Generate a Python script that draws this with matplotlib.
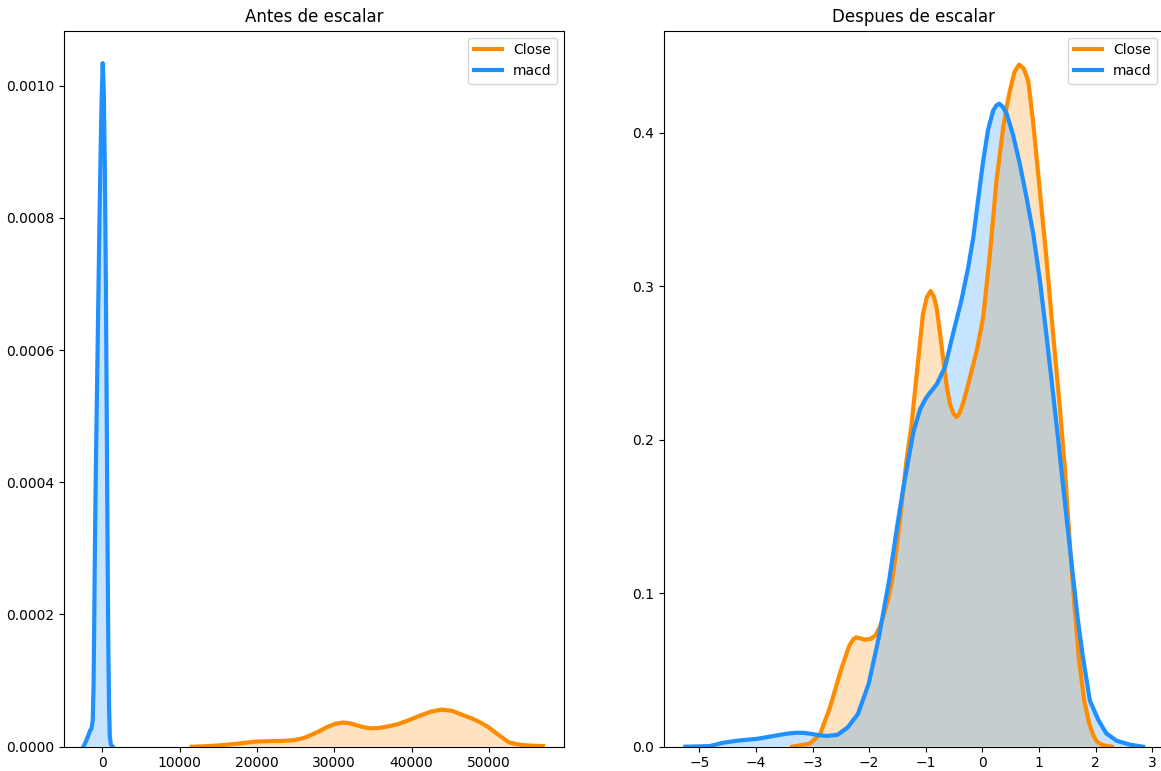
import matplotlib
matplotlib.use("Agg")
import matplotlib.pyplot as plt

# Density estimates before scaling (raw values)
close_raw_x = [11550, 13500, 15100, 16500, 17800, 19000, 20000, 21500, 23200, 24900,
               26000, 26700, 27900, 29000, 30100, 31100, 32000, 32800, 33800, 34750,
               35700, 36500, 37400, 38300, 39600, 41000, 42500, 43900, 45300, 46800,
               48000, 49000, 50000, 50800, 51700, 52600, 53500, 54400, 55600, 57000]
close_raw_y = [0.0, 0.0000008, 0.0000020, 0.0000034, 0.0000050, 0.0000066, 0.0000078,
               0.0000084, 0.0000086, 0.0000101, 0.0000130, 0.0000162, 0.0000225,
               0.0000294, 0.0000345, 0.0000365, 0.0000355, 0.0000328, 0.0000295,
               0.0000278, 0.0000282, 0.0000298, 0.0000318, 0.0000344, 0.0000400,
               0.0000466, 0.0000530, 0.0000562, 0.0000540, 0.0000471, 0.0000418,
               0.0000360, 0.0000290, 0.0000218, 0.0000140, 0.0000066, 0.0000040,
               0.0000025, 0.0000015, 0.0000010]

macd_raw_x = [-2470, -2200, -1900, -1600, -1400, -1250, -1150, -1050, -960, -850,
              -700, -550, -400, -250, -100, 40, 180, 320, 450, 560, 660, 760, 860,
              960, 1100, 1330]
macd_raw_y = [0.0, 0.000006, 0.000015, 0.000024, 0.000028, 0.000040, 0.000090,
              0.000200, 0.000313, 0.000420, 0.000540, 0.000660, 0.000780, 0.000890,
              0.000980, 0.001034, 0.000990, 0.000870, 0.000700, 0.000500, 0.000313,
              0.000160, 0.000060, 0.000015, 0.000003, 0.0]

# Density estimates after standard scaling
close_std_x = [-3.36, -3.05, -2.87, -2.69, -2.50, -2.35, -2.28, -2.23, -2.15, -2.08,
               -1.98, -1.89, -1.81, -1.74, -1.66, -1.59, -1.52, -1.45, -1.34, -1.25,
               -1.16, -1.05, -0.98, -0.915, -0.86, -0.81, -0.75, -0.69, -0.63, -0.574,
               -0.51, -0.456, -0.40, -0.34, -0.28, -0.19, -0.10, 0.015, 0.133, 0.25,
               0.368, 0.43, 0.486, 0.57, 0.65, 0.73, 0.81, 0.90, 1.016, 1.13, 1.25,
               1.37, 1.46, 1.55, 1.62, 1.71, 1.80, 1.89, 1.96, 2.02, 2.10, 2.18, 2.29]
close_std_y = [0.0, 0.002, 0.008, 0.026, 0.050, 0.066, 0.0700, 0.0713, 0.0705, 0.0698,
               0.0702, 0.0725, 0.0780, 0.0860, 0.0970, 0.110, 0.128, 0.150, 0.187,
               0.2105, 0.243, 0.282, 0.2930, 0.297, 0.2935, 0.2865, 0.2700, 0.2518,
               0.2350, 0.2236, 0.2170, 0.2148, 0.2175, 0.2240, 0.232, 0.245, 0.258,
               0.280, 0.321, 0.369, 0.4036, 0.4170, 0.4275, 0.4400, 0.4445, 0.4420,
               0.434, 0.406, 0.362, 0.319, 0.269, 0.221, 0.180, 0.130, 0.095, 0.056,
               0.030, 0.015, 0.0075, 0.0035, 0.0015, 0.0006, 0.0]

macd_std_x = [-5.25, -4.82, -4.58, -4.33, -3.97, -3.66, -3.45, -3.30, -3.15, -3.05,
              -2.90, -2.75, -2.56, -2.38, -2.20, -2.01, -1.83, -1.65, -1.50, -1.40,
              -1.31, -1.22, -1.10, -1.00, -0.93, -0.81, -0.66, -0.52, -0.37, -0.25,
              -0.16, -0.07, 0.015, 0.10, 0.19, 0.25, 0.30, 0.36, 0.43, 0.54, 0.66,
              0.78, 0.90, 1.016, 1.13, 1.25, 1.34, 1.42, 1.50, 1.59, 1.68, 1.77,
              1.90, 2.05, 2.19, 2.37, 2.61, 2.84]
macd_std_y = [0.0, 0.0004, 0.0026, 0.0039, 0.0052, 0.0072, 0.0085, 0.0091, 0.0090,
              0.0085, 0.0076, 0.0070, 0.0078, 0.0126, 0.0213, 0.0409, 0.0713, 0.108,
              0.145, 0.1680, 0.1866, 0.2050, 0.2200, 0.2270, 0.2305, 0.2360, 0.2474,
              0.269, 0.291, 0.3125, 0.332, 0.358, 0.382, 0.4020, 0.4145, 0.4180,
              0.419, 0.4170, 0.4124, 0.399, 0.380, 0.358, 0.334, 0.304, 0.269, 0.230,
              0.200, 0.172, 0.145, 0.115, 0.085, 0.060, 0.030, 0.0174, 0.0087,
              0.0039, 0.0013, 0.0]

series_labels = ["Close", "macd"]
series_colors = ["darkorange", "dodgerblue"]
titles = ["Antes de escalar", "Despues de escalar"]

W, H, DPI = 1161, 771, 100
fig = plt.figure(figsize=(W / DPI, H / DPI), dpi=DPI)


def px_axes(x0, x1, y_top, y_bottom):
    return fig.add_axes([x0 / W, (H - y_bottom) / H, (x1 - x0) / W, (y_bottom - y_top) / H])


ax1 = px_axes(64, 564, 30.7, 746.7)
ax2 = px_axes(664, 1164, 30.7, 746.7)


def kde_like(ax, xs, ys, color, label):
    ax.plot(xs, ys, color=color, lw=3, label=label, solid_joinstyle="round")
    ax.fill_between(xs, 0, ys, facecolor=color, alpha=0.25)


kde_like(ax1, close_raw_x, close_raw_y, series_colors[0], series_labels[0])
kde_like(ax1, macd_raw_x, macd_raw_y, series_colors[1], series_labels[1])
kde_like(ax2, close_std_x, close_std_y, series_colors[0], series_labels[0])
kde_like(ax2, macd_std_x, macd_std_y, series_colors[1], series_labels[1])

ax1.set_xlim(-4970, 59720)
ax1.set_ylim(0, 0.001083)
ax1.set_xticks([0, 10000, 20000, 30000, 40000, 50000])
ax1.set_yticks([0.0, 0.0002, 0.0004, 0.0006, 0.0008, 0.0010])
ax1.set_yticklabels(["0.0000", "0.0002", "0.0004", "0.0006", "0.0008", "0.0010"])

ax2.set_xlim(-5.627, 3.21)
ax2.set_ylim(0, 0.4666)
ax2.set_xticks([-5, -4, -3, -2, -1, 0, 1, 2, 3])
ax2.set_yticks([0.0, 0.1, 0.2, 0.3, 0.4])

for ax, t in zip((ax1, ax2), titles):
    ax.set_title(t, fontsize=12)
    ax.legend(loc="upper right", fontsize=10)
    ax.tick_params(labelsize=10)

fig.savefig("out.png", dpi=DPI)
